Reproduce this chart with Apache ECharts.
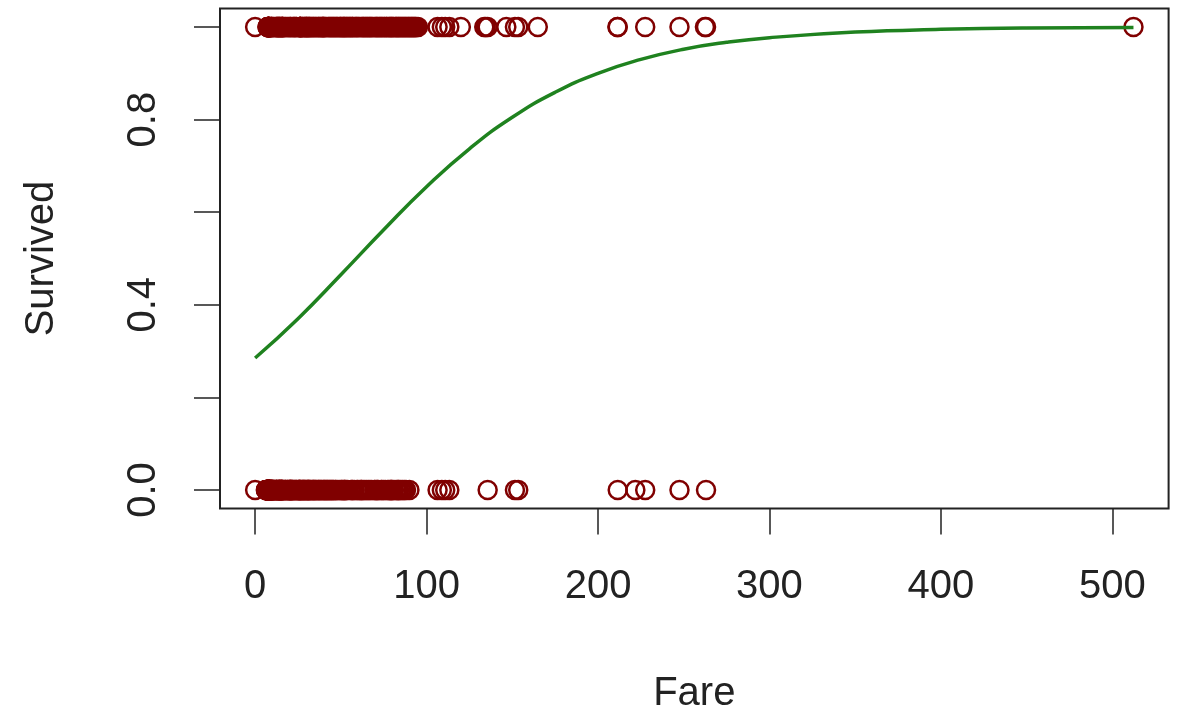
<!DOCTYPE html>
<html>
<head>
<meta charset="utf-8">
<script src="https://cdn.jsdelivr.net/npm/echarts@6/dist/echarts.min.js"></script>
<style>html,body{margin:0;padding:0;background:#fff;}#c{width:1180px;height:711px;}</style>
</head>
<body>
<div id="c"></div>
<script>
// Fares of passengers who survived (plotted at 1)
const survivedFares = [0, 7.225, 7.25, 7.55, 7.75, 7.7333, 7.7375, 7.775, 7.7875, 7.8292, 7.8542, 7.879, 7.925, 8.05, 8.1125, 8.5167, 8.6625, 9.35, 9.5, 9.5875, 9.8417, 10.5, 11.1333, 12, 12.475, 12.65, 13, 13.4167, 13.5, 13.7917, 14.4, 14.4542, 14.4583, 15.2458, 15.5, 15.75, 15.9, 16, 16.1, 16.7, 17.4, 18, 18.75, 19.5, 20.25, 20.525, 21, 22.025, 22.3583, 23, 23.25, 24, 24.15, 25.9292, 26, 26.25, 26.2833, 26.2875, 26.3875, 26.55, 27, 27.7208, 27.75, 28.5, 29, 29.125, 29.7, 30, 30.0708, 30.5, 31, 31.3875, 31.6, 32, 32.5, 33, 33.5, 34, 34.375, 35, 35.5, 36, 36.75, 37.0042, 37.5, 38, 38.5, 39, 39.4, 39.6, 39.6875, 40.125, 40.5, 41, 41.5792, 42.5, 43, 43.5, 44, 44.5, 45, 45.5, 46, 46.5, 47.1, 47.5, 48, 48.5, 49.5, 49.5042, 50, 50.4958, 51, 51.4792, 51.8625, 52, 52.5542, 53.1, 53.5, 54, 54.5, 55, 55.4417, 55.9, 56.4958, 56.9292, 57, 57.9792, 58.5, 59, 59.4, 60, 60.5, 61.175, 61.9792, 62.5, 63, 63.3583, 64, 64.5, 65, 65.5, 66, 66.6, 67, 67.5, 68, 68.5, 69.3, 70, 70.5, 71, 71.2833, 72, 72.5, 73, 73.5, 74, 74.5, 75.25, 75.5, 76.2917, 76.7292, 77, 77.9583, 78.2667, 78.85, 79.2, 79.65, 80, 80.5, 81, 81.8583, 82.1708, 82.5, 83.1583, 83.5, 84, 84.5, 85, 85.5, 86, 86.5, 87, 87.5, 88, 88.5, 89.1042, 89.5, 90, 90.5, 91.0792, 91.5, 92, 92.5, 93, 93.5, 94, 95, 106.425, 108.9, 110.8833, 113.275, 120, 133.65, 134.5, 135.6333, 146.5208, 151.55, 153.4625, 164.8667, 211.3375, 211.5, 227.525, 247.5208, 262.375, 263, 512.3292];
// Fares of passengers who did not survive (plotted at 0)
const diedFares = [0, 6.2375, 6.4375, 6.45, 6.4958, 6.75, 6.8583, 6.95, 6.975, 7.0458, 7.05, 7.0542, 7.125, 7.1417, 7.225, 7.2292, 7.25, 7.3125, 7.4958, 7.52, 7.55, 7.5792, 7.6292, 7.65, 7.725, 7.7292, 7.7333, 7.7375, 7.7417, 7.75, 7.775, 7.7875, 7.7958, 7.8, 7.8292, 7.8542, 7.875, 7.8875, 7.8958, 7.925, 8.0292, 8.05, 8.1125, 8.1375, 8.1583, 8.3, 8.3625, 8.4042, 8.4333, 8.4583, 8.6542, 8.6625, 8.6833, 8.7125, 8.85, 9, 9.2167, 9.225, 9.475, 9.4833, 9.5, 9.5875, 9.825, 9.8375, 9.8458, 10.1708, 10.4625, 10.5, 10.5167, 11.1333, 11.2417, 11.5, 12.275, 12.2875, 12.35, 12.525, 12.875, 13, 13.5, 13.8583, 13.8625, 14, 14.1083, 14.4, 14.4542, 14.5, 15.0458, 15.05, 15.1, 15.2458, 15.5, 15.55, 15.7417, 15.85, 16.1, 16.5, 17, 17.5, 17.8, 18, 18.7875, 19, 19.2583, 19.9667, 20.2125, 20.25, 20.525, 20.575, 21, 21.075, 21.5, 21.6792, 22, 22.525, 23, 23.45, 24, 24.15, 25, 25.4667, 25.5875, 25.925, 26, 26.25, 26.55, 27, 27.5, 27.9, 28, 28.5, 28.7125, 29.125, 29.5, 30, 30.5, 30.6958, 31, 31.275, 31.5, 32, 32.3208, 33, 33.5, 34, 34.0208, 34.6542, 35, 35.5, 36, 36.75, 37, 37.5, 38, 38.5, 39, 39.6875, 40.125, 40.5, 41, 41.5, 42, 42.4, 43, 43.5, 44, 44.5, 45, 45.5, 46, 46.9, 47.1, 48, 49, 50, 50.4958, 51, 51.8625, 52, 52.5, 53.1, 54, 55.9, 56.4958, 57, 58, 59.4, 60, 61.175, 61.9792, 62, 63, 64, 65, 66, 67, 68, 69.55, 70, 71, 71.2833, 72, 73.5, 74, 75, 76, 77.2875, 78, 78.85, 79.2, 79.65, 80, 81, 82.1708, 83, 83.475, 84, 85, 86, 87, 88, 90, 106.425, 108.9, 110.8833, 113.275, 135.6333, 151.55, 153.4625, 211.5, 221.7792, 227.525, 247.5208, 263];
// Fitted curve
const curveFare = [0, 25, 50, 75, 100, 125, 150, 175, 200, 225, 250, 275, 300, 350, 400, 450, 512.3292];
const curveProb = [0.285, 0.37, 0.465, 0.562, 0.655, 0.737, 0.805, 0.859, 0.900, 0.930, 0.952, 0.967, 0.977, 0.989, 0.995, 0.998, 0.999];
// Axis ticks
const xTicks = [0, 100, 200, 300, 400, 500];
const yTicks = [0, 0.2, 0.4, 0.6, 0.8, 1.0];
const yLabels = [0, 0.4, 0.8];

const chart = echarts.init(document.getElementById('c'));
const font = 'Liberation Sans, Arial, sans-serif';
const ink = '#222';
const dotColor = '#800000';
const ring = { color: 'rgba(0,0,0,0)', borderColor: dotColor, borderWidth: 2.5, opacity: 1 };
chart.setOption({
  animation: false,
  backgroundColor: '#fff',
  grid: { left: 220, top: 8.5, width: 948.6, height: 500, show: true, borderColor: ink, borderWidth: 2,
    backgroundColor: 'transparent', outerBoundsMode: 'none', containLabel: false },
  xAxis: {
    type: 'value', min: -20.49, max: 532.82,
    name: 'Fare', nameLocation: 'middle', nameGap: 165,
    nameTextStyle: { fontFamily: font, fontSize: 40, color: ink },
    axisLine: { show: false, onZero: false },
    splitLine: { show: false },
    axisTick: { show: true, customValues: xTicks, length: 26, lineStyle: { color: ink, width: 1.5 } },
    axisLabel: { customValues: xTicks, margin: 58, fontFamily: font, fontSize: 40, color: ink }
  },
  yAxis: {
    type: 'value', min: -0.04, max: 1.04,
    name: 'Survived', nameLocation: 'middle', nameGap: 158,
    nameTextStyle: { fontFamily: font, fontSize: 40, color: ink },
    axisLine: { show: false, onZero: false },
    splitLine: { show: false },
    axisTick: { show: true, customValues: yTicks, length: 26, lineStyle: { color: ink, width: 1.5 } },
    axisLabel: { customValues: yLabels, rotate: 90, margin: 56, fontFamily: font, fontSize: 40, color: ink,
      formatter: v => v.toFixed(1) }
  },
  series: [
    { type: 'scatter', data: survivedFares.map(f => [f, 1]), symbol: 'circle', symbolSize: 18,
      itemStyle: ring, emphasis: { disabled: true } },
    { type: 'scatter', data: diedFares.map(f => [f, 0]), symbol: 'circle', symbolSize: 18,
      itemStyle: ring, emphasis: { disabled: true } },
    { type: 'line', data: curveFare.map((f, i) => [f, curveProb[i]]), smooth: true, symbol: 'none',
      lineStyle: { color: '#1f821f', width: 3.5 }, z: 3 }
  ]
});
</script>
</body>
</html>
